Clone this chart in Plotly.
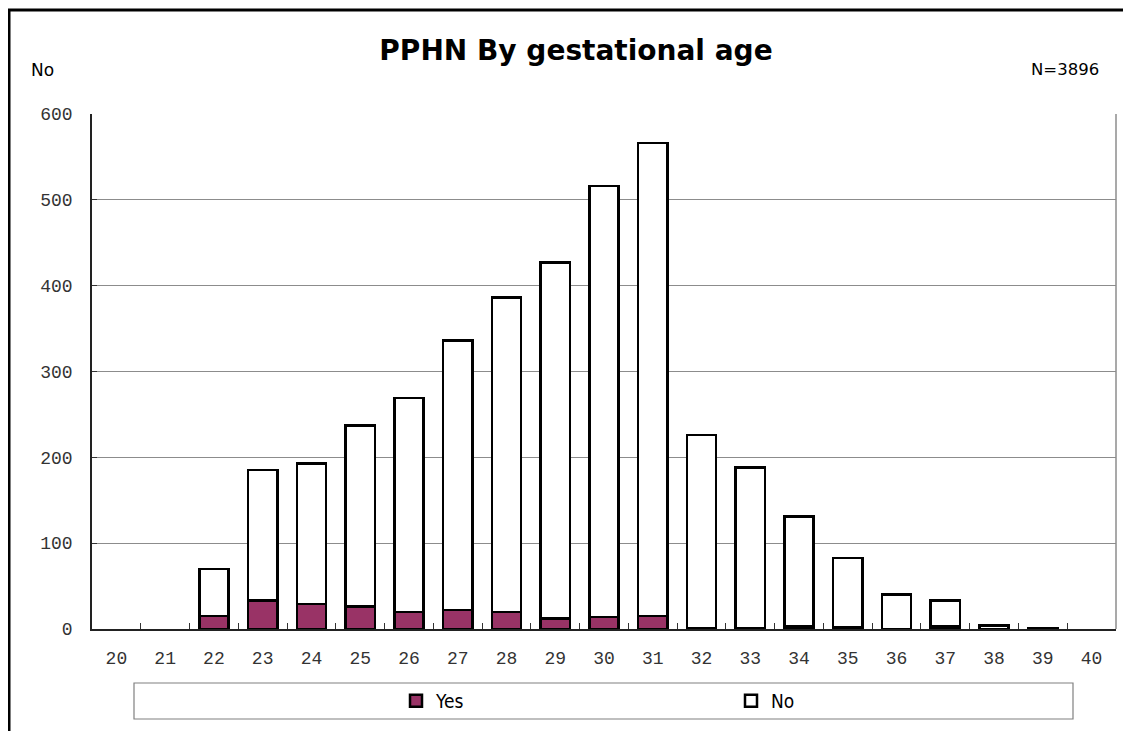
import plotly.graph_objects as go

categories = [str(v) for v in range(20, 41)]
totals = [None, None, 70, 185, 193, 237, 269, 336, 386, 427, 516, 566, 226, 188, 131, 83, 40, 33, 4, 1, None]
yes_vals = [None, None, 15, 33, 29, 26, 20, 22, 20, 12, 14, 15, 1, 1, 3, 2, 0, 3, 0, 0, None]
no_vals = [None if t is None else t - y for t, y in zip(totals, yes_vals)]
y_ticks = [0, 100, 200, 300, 400, 500, 600]

# page offset (browser body margin)
OX, OY = 8, 8
W, H = 1131 - OX, 731 - OY
PL, PR, PT, PB = 92, 1116, 114, 629  # plot area in page pixels
L, R, T, B = PL - OX, W - (PR - OX), PT - OY, H - (PB - OY)
pw, ph = W - L - R, H - T - B

def px(x):
    return (x - OX - L) / pw

def py(y):
    return (H - B - (y - OY)) / ph

fig = go.Figure()
fig.add_trace(go.Bar(x=categories, y=yes_vals, name="Yes",
                     marker=dict(color="#993366", line=dict(color="#000000", width=2.5))))
fig.add_trace(go.Bar(x=categories, y=no_vals, name="No",
                     marker=dict(color="#ffffff", line=dict(color="#000000", width=2.5))))

tickfont = dict(family="Liberation Mono", size=18, color="#333333")

fig.update_layout(
    width=W, height=H,
    margin=dict(l=L, r=R, t=T, b=B, autoexpand=False),
    paper_bgcolor="white", plot_bgcolor="white",
    barmode="stack", bargap=0.4,
    showlegend=True,
    title=dict(text="<b>PPHN By gestational age</b>", xref="paper", x=px(576), xanchor="center",
               yref="container", y=1 - (50 - OY) / H, yanchor="middle",
               font=dict(family="DejaVu Sans", size=28, color="#000000")),
    legend=dict(orientation="h", xanchor="left", x=px(396), yanchor="middle", y=py(701),
                traceorder="normal", bgcolor="rgba(0,0,0,0)", entrywidth=290,
                font=dict(family="DejaVu Sans Condensed", size=19, color="#000000")),
    xaxis=dict(type="category", categoryorder="array", categoryarray=categories,
               tickson="boundaries", ticks="inside", ticklen=6, tickcolor="#333333",
               showline=True, linecolor="#222222", linewidth=1.5,
               showgrid=False, tickfont=tickfont, ticklabelstandoff=12),
    yaxis=dict(range=[0, 600], tickvals=y_ticks, ticks="inside", ticklen=5, tickcolor="#333333",
               showline=True, linecolor="#222222", linewidth=1.5,
               showgrid=True, gridcolor="#8c8c8c", gridwidth=1, zeroline=False,
               tickfont=tickfont, ticklabelstandoff=14),
    shapes=[
        dict(type="line", xref="paper", yref="paper", x0=1, x1=1, y0=0, y1=1,
             line=dict(color="#8c8c8c", width=1.5)),
        dict(type="rect", xref="paper", yref="paper", x0=px(134), x1=px(1073), y0=py(719), y1=py(683),
             line=dict(color="#808080", width=1.2), fillcolor="rgba(0,0,0,0)", layer="below"),
        dict(type="line", xref="paper", yref="paper", x0=px(9), x1=px(9), y0=py(10), y1=py(740),
             line=dict(color="#000000", width=3)),
        dict(type="line", xref="paper", yref="paper", x0=px(8), x1=px(1140), y0=py(10), y1=py(10),
             line=dict(color="#000000", width=3)),
    ],
    annotations=[
        dict(text="No", xref="paper", yref="paper", x=px(42), y=py(70), xanchor="center", yanchor="middle",
             showarrow=False, font=dict(family="DejaVu Sans", size=17, color="#000000")),
        dict(text="N=3896", xref="paper", yref="paper", x=px(1101), y=py(70), xanchor="right", yanchor="middle",
             showarrow=False, font=dict(family="DejaVu Sans", size=16.5, color="#000000")),
    ],
)

fig.write_html("out.html")
